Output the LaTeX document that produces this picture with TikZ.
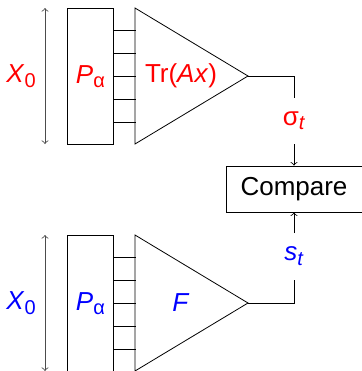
\documentclass[tikz,border=0pt]{standalone}
\usepackage{fontspec}
\setmainfont{Liberation Sans}
\usetikzlibrary{calc, positioning}
\newcommand{\lowidx}[1]{\raisebox{-2.2pt}{\fontsize{10}{11}\selectfont #1}}

\begin{document}
\begin{tikzpicture}[
    x=0.5pt, y=-0.5pt,
    font=\fontsize{13}{15}\selectfont,
    pbox/.style={draw, minimum width=23pt, minimum height=68pt, inner sep=0pt, anchor=north west},
    cmpbox/.style={draw, minimum width=68pt, minimum height=23pt, inner sep=0pt},
    sizearr/.style={<->, draw=black!70},
    arr/.style={->}
  ]
    \useasboundingbox (0,0) rectangle (362,371);

    % upper block
    \node[pbox] (pa1) at (67,8) {\textcolor{red}{\textit{P}\lowidx{α}}};
    \foreach \i in {1,...,5}
      \draw ($(pa1.north east)!\i/6!(pa1.south east)$) -- ++(22,0);
    \coordinate (t1a) at (135,8);
    \coordinate (t1b) at (135,144);
    \coordinate (t1c) at (248,76);
    \draw (t1a) -- (t1c) -- (t1b) -- cycle;
    \node[red] (tr) at (181,76) {Tr(\textit{Ax})};
    \coordinate (x1a) at (45,8);
    \coordinate (x1b) at (45,144);
    \draw[sizearr] (x1a) -- (x1b);
    \node[red] (x1) at (21,76) {\textit{X}\lowidx{0}};

    % compare
    \node[cmpbox] (cmp) at (294,189) {Compare};

    \node[red] (sig) at (294,121) {σ\lowidx{\textit{t}}};
    \coordinate (o1a) at (294,98);
    \coordinate (o1b) at (294,144);
    \draw (t1c) -| (o1a);
    \draw[arr] (o1b) -- (cmp.north);

    % lower block
    \node[pbox] (pa2) at (67,235) {\textcolor{blue}{\textit{P}\lowidx{α}}};
    \foreach \i in {1,...,5}
      \draw ($(pa2.north east)!\i/6!(pa2.south east)$) -- ++(22,0);
    \coordinate (t2a) at (135,235);
    \coordinate (t2b) at (135,371);
    \coordinate (t2c) at (248,303);
    \draw (t2a) -- (t2c) -- (t2b) -- cycle;
    \node[blue] (ff) at (181,303) {\textit{F}};
    \coordinate (x2a) at (45,235);
    \coordinate (x2b) at (45,371);
    \draw[sizearr] (x2a) -- (x2b);
    \node[blue] (x2) at (21,303) {\textit{X}\lowidx{0}};

    \node[blue] (st) at (294,256) {\textit{s}\lowidx{\textit{t}}};
    \coordinate (o2a) at (294,280);
    \coordinate (o2b) at (294,233);
    \draw (t2c) -| (o2a);
    \draw[arr] (o2b) -- (cmp.south);
  \end{tikzpicture}
\end{document}
